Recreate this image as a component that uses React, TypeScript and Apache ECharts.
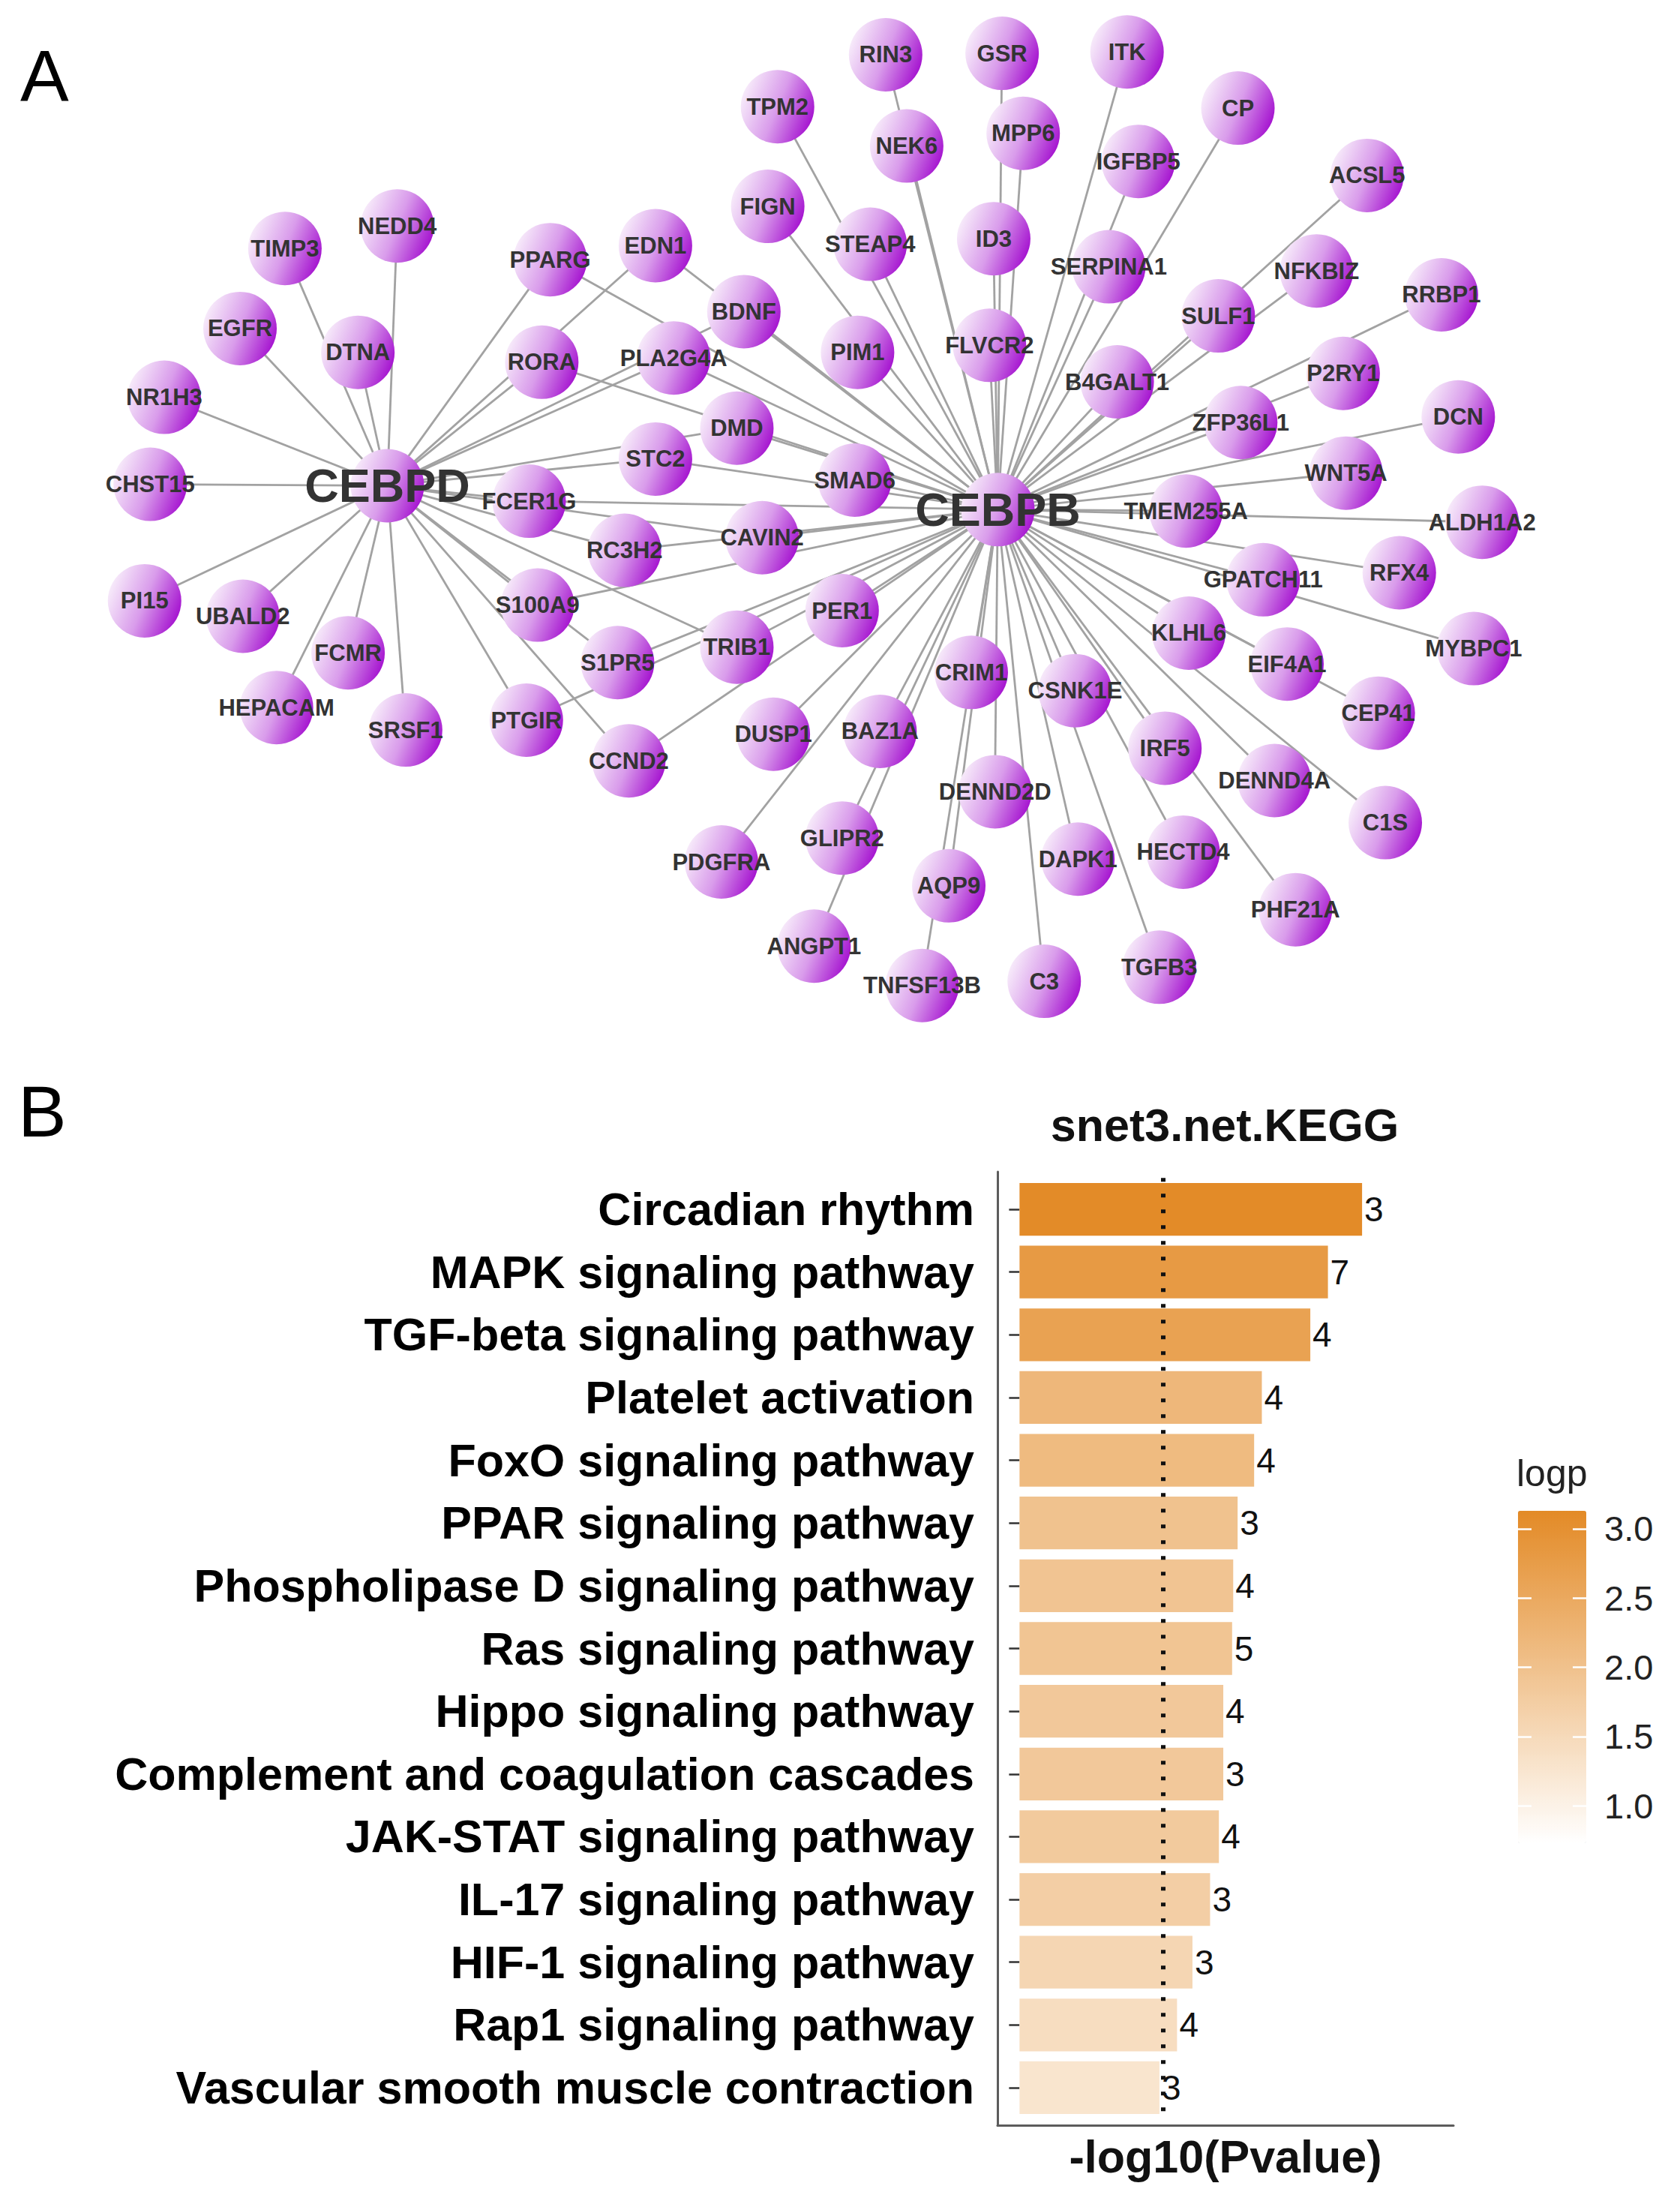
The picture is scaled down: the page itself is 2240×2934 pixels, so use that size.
import React, { useEffect, useRef } from "react";
import * as echarts from "echarts";

const PAGE_W = 2240;
const PAGE_H = 2934;
// node layout below is read in units of the 1197-px-wide reference picture
const REF_SCALE = 2240 / 1197;

// ---------------- Panel A : network ----------------
const hubGenes = ["CEBPD", "CEBPB"];
const cebpdOnlyTargets = [
  "NEDD4", "TIMP3", "EGFR", "DTNA", "NR1H3", "CHST15", "PI15", "UBALD2", "FCMR", "HEPACAM", "SRSF1",
];
const sharedTargets = [
  "PPARG", "EDN1", "RORA", "PLA2G4A", "BDNF", "DMD", "STC2", "FCER1G", "RC3H2", "CAVIN2",
  "S100A9", "S1PR5", "TRIB1", "PTGIR", "CCND2",
];
const cebpbOnlyTargets = [
  "RIN3", "GSR", "ITK", "TPM2", "NEK6", "MPP6", "CP", "IGFBP5", "ACSL5", "FIGN", "STEAP4", "ID3",
  "SERPINA1", "NFKBIZ", "RRBP1", "PIM1", "FLVCR2", "SULF1", "B4GALT1", "P2RY1", "ZFP36L1", "DCN",
  "WNT5A", "SMAD6", "TMEM255A", "ALDH1A2", "GPATCH11", "RFX4", "KLHL6", "MYBPC1", "EIF4A1", "CEP41",
  "CRIM1", "CSNK1E", "PER1", "IRF5", "DENND4A", "C1S", "DUSP1", "BAZ1A", "DENND2D", "GLIPR2",
  "DAPK1", "HECTD4", "PHF21A", "PDGFRA", "AQP9", "ANGPT1", "TNFSF13B", "C3", "TGFB3",
];
const nodeLayout: [string, number, number][] = [
  ["CEBPD", 276, 346], ["CEBPB", 711, 363],
  ["NEDD4", 283, 161], ["TIMP3", 203, 177], ["EGFR", 171, 234], ["DTNA", 255, 251],
  ["NR1H3", 117, 283], ["CHST15", 107, 345], ["PI15", 103, 428], ["UBALD2", 173, 439],
  ["FCMR", 248, 465], ["HEPACAM", 197, 504], ["SRSF1", 289, 520],
  ["PPARG", 392, 185], ["EDN1", 467, 175], ["RORA", 386, 258], ["PLA2G4A", 480, 255],
  ["BDNF", 530, 222], ["DMD", 525, 305], ["STC2", 467, 327], ["FCER1G", 377, 357],
  ["RC3H2", 445, 392], ["CAVIN2", 543, 383], ["S100A9", 383, 431], ["S1PR5", 440, 472],
  ["TRIB1", 525, 461], ["PTGIR", 375, 513], ["CCND2", 448, 542],
  ["RIN3", 631, 39], ["GSR", 714, 38], ["ITK", 803, 37], ["TPM2", 554, 76], ["NEK6", 646, 104],
  ["MPP6", 729, 95], ["CP", 882, 77], ["IGFBP5", 811, 115], ["ACSL5", 974, 125], ["FIGN", 547, 147],
  ["STEAP4", 620, 174], ["ID3", 708, 170], ["SERPINA1", 790, 190], ["NFKBIZ", 938, 193],
  ["RRBP1", 1027, 210], ["PIM1", 611, 251], ["FLVCR2", 705, 246], ["SULF1", 868, 225],
  ["B4GALT1", 796, 272], ["P2RY1", 957, 266], ["ZFP36L1", 884, 301], ["DCN", 1039, 297],
  ["WNT5A", 959, 337], ["SMAD6", 609, 342], ["TMEM255A", 845, 364], ["ALDH1A2", 1056, 372],
  ["GPATCH11", 900, 413], ["RFX4", 997, 408], ["KLHL6", 847, 451], ["MYBPC1", 1050, 462],
  ["EIF4A1", 917, 473], ["CEP41", 982, 508], ["CRIM1", 692, 479], ["CSNK1E", 766, 492],
  ["PER1", 600, 435], ["IRF5", 830, 533], ["DENND4A", 908, 556], ["C1S", 987, 586],
  ["DUSP1", 551, 523], ["BAZ1A", 627, 521], ["DENND2D", 709, 564], ["GLIPR2", 600, 597],
  ["DAPK1", 768, 612], ["HECTD4", 843, 607], ["PHF21A", 923, 648], ["PDGFRA", 514, 614],
  ["AQP9", 676, 631], ["ANGPT1", 580, 674], ["TNFSF13B", 657, 702], ["C3", 744, 699],
  ["TGFB3", 826, 689],
];

// ---------------- Panel B : KEGG enrichment ----------------
const pathways = [
  "Circadian rhythm",
  "MAPK signaling pathway",
  "TGF-beta signaling pathway",
  "Platelet activation",
  "FoxO signaling pathway",
  "PPAR signaling pathway",
  "Phospholipase D signaling pathway",
  "Ras signaling pathway",
  "Hippo signaling pathway",
  "Complement and coagulation cascades",
  "JAK-STAT signaling pathway",
  "IL-17 signaling pathway",
  "HIF-1 signaling pathway",
  "Rap1 signaling pathway",
  "Vascular smooth muscle contraction",
];
const negLog10P = [3.11, 2.8, 2.64, 2.2, 2.13, 1.98, 1.94, 1.93, 1.85, 1.85, 1.81, 1.73, 1.57, 1.43, 1.27];
const geneCounts = [3, 7, 4, 4, 4, 3, 4, 5, 4, 3, 4, 3, 3, 4, 3];
const legendTicks = [1.0, 1.5, 2.0, 2.5, 3.0];
const logpRange = [0.73, 3.13];
const xRange = [-0.2, 3.94];
const pThreshold = -Math.log10(0.05);

const SANS = "Liberation Sans";

function buildOption() {
  const xs = nodeLayout.map((n) => n[1]);
  const ys = nodeLayout.map((n) => n[2]);
  const minX = Math.min(...xs);
  const maxX = Math.max(...xs);
  const minY = Math.min(...ys);
  const maxY = Math.max(...ys);
  const box = {
    left: minX * REF_SCALE,
    top: minY * REF_SCALE,
    width: (maxX - minX) * REF_SCALE,
    height: (maxY - minY) * REF_SCALE,
  };

  const nodeGradient = new echarts.graphic.LinearGradient(0, 0.3, 1, 0.7, [
    { offset: 0, color: "#f9f0fb" },
    { offset: 0.5, color: "#d99ceb" },
    { offset: 1, color: "#a20bce" },
  ]);

  const links = [
    ...cebpdOnlyTargets.concat(sharedTargets).map((t) => ({ source: "CEBPD", target: t })),
    ...sharedTargets.concat(cebpbOnlyTargets).map((t) => ({ source: "CEBPB", target: t })),
  ];

  const nodeData = nodeLayout.map(([name, x, y]) => ({ name, x, y }));
  const labelData = nodeLayout.map(([name, x, y]) => ({
    name,
    x,
    y,
    label: hubGenes.includes(name) ? { fontSize: 63, color: "#333" } : undefined,
  }));

  const legendAxisCommon = {
    gridIndex: 2,
    type: "value",
    min: logpRange[0],
    max: logpRange[1],
    z: 10,
    axisLine: { show: false },
    splitLine: { show: false },
    axisTick: {
      show: true,
      inside: true,
      length: 18,
      customValues: legendTicks,
      lineStyle: { color: "#ffffff", width: 2.5 },
    },
  };

  return {
    animation: false,
    backgroundColor: "#ffffff",
    graphic: [
      {
        type: "text",
        x: 27,
        y: 100,
        style: { text: "A", fontSize: 97, fontFamily: SANS, fill: "#000", align: "left", verticalAlign: "middle" },
      },
      {
        type: "text",
        x: 24,
        y: 1481,
        style: { text: "B", fontSize: 97, fontFamily: SANS, fill: "#000", align: "left", verticalAlign: "middle" },
      },
      {
        type: "text",
        x: 1633,
        y: 1500,
        style: {
          text: "snet3.net.KEGG",
          fontSize: 61,
          fontWeight: "bold",
          fontFamily: SANS,
          fill: "#111",
          align: "center",
          verticalAlign: "middle",
        },
      },
      {
        type: "text",
        x: 2022,
        y: 1964,
        style: { text: "logp", fontSize: 50, fontFamily: SANS, fill: "#222", align: "left", verticalAlign: "middle" },
      },
    ],
    grid: [
      { left: 1330, top: 1570.2, width: 608, height: 1254.6 },
      { left: 1330, top: 1562, width: 608, height: 1271 },
      { left: 2024, top: 2014, width: 91, height: 443 },
    ],
    xAxis: [
      { gridIndex: 0, type: "value", min: xRange[0], max: xRange[1], show: false },
      {
        gridIndex: 1,
        type: "value",
        min: 0,
        max: 1,
        axisLine: { show: true, onZero: false, lineStyle: { color: "#5c5c5c", width: 3 } },
        axisTick: { show: false },
        axisLabel: { show: false },
        splitLine: { show: false },
        name: "-log10(Pvalue)",
        nameLocation: "middle",
        nameGap: 11,
        nameTextStyle: { fontSize: 61, fontWeight: "bold", fontFamily: SANS, color: "#111" },
      },
      { gridIndex: 2, type: "value", show: false },
    ],
    yAxis: [
      {
        gridIndex: 0,
        type: "category",
        inverse: true,
        data: pathways,
        axisLine: { show: false },
        axisTick: { show: true, alignWithLabel: true, length: 14, lineStyle: { color: "#333", width: 2.5 } },
        axisLabel: { fontSize: 61, fontWeight: "bold", fontFamily: SANS, color: "#000", margin: 31 },
        splitLine: { show: false },
      },
      {
        gridIndex: 1,
        type: "value",
        min: 0,
        max: 1,
        axisLine: { show: true, onZero: false, lineStyle: { color: "#5c5c5c", width: 3 } },
        axisTick: { show: false },
        axisLabel: { show: false },
        splitLine: { show: false },
      },
      { ...legendAxisCommon, position: "left", axisLabel: { show: false } },
      {
        ...legendAxisCommon,
        position: "right",
        axisLabel: {
          show: true,
          customValues: legendTicks,
          formatter: (v: number) => v.toFixed(1),
          margin: 24,
          fontSize: 47,
          fontFamily: SANS,
          color: "#222",
        },
      },
    ],
    visualMap: {
      type: "continuous",
      min: logpRange[0],
      max: logpRange[1],
      dimension: 0,
      seriesIndex: 2,
      left: 2024,
      top: 2014,
      itemWidth: 91,
      itemHeight: 443,
      padding: 0,
      calculable: false,
      orient: "vertical",
      inRange: { color: ["#ffffff", "#e38a26"] },
    },
    series: [
      {
        type: "graph",
        layout: "none",
        ...box,
        roam: false,
        silent: true,
        symbol: "circle",
        symbolSize: 98,
        itemStyle: { color: nodeGradient },
        lineStyle: { color: "#a2a2a2", width: 2.8, opacity: 1, curveness: 0 },
        label: { show: false },
        emphasis: { disabled: true },
        data: nodeData,
        links,
      },
      {
        type: "graph",
        layout: "none",
        ...box,
        roam: false,
        silent: true,
        symbol: "circle",
        symbolSize: 1,
        itemStyle: { color: "rgba(0,0,0,0)" },
        label: {
          show: true,
          position: "inside",
          fontFamily: SANS,
          fontWeight: "bold",
          fontSize: 31,
          color: "#333",
        },
        emphasis: { disabled: true },
        data: labelData,
        links: [],
      },
      {
        type: "bar",
        xAxisIndex: 0,
        yAxisIndex: 0,
        data: negLog10P.map((v, i) => [v, pathways[i]]),
        barWidth: "84%",
        silent: true,
        label: {
          show: true,
          position: "right",
          distance: 3,
          formatter: (p: any) => String(geneCounts[p.dataIndex]),
          fontFamily: SANS,
          fontSize: 46,
          color: "#111",
        },
        markLine: {
          silent: true,
          symbol: "none",
          label: { show: false },
          emphasis: { disabled: true },
          lineStyle: { color: "#111", width: 6, type: [5, 16] },
          data: [{ xAxis: pThreshold }],
        },
      },
    ],
  };
}

export default function App() {
  const ref = useRef<HTMLDivElement>(null);
  useEffect(() => {
    if (!ref.current) return;
    const chart = echarts.init(ref.current, null, { renderer: "svg" });
    chart.setOption(buildOption() as any);
    return () => chart.dispose();
  }, []);
  return (
    <div
      ref={ref}
      style={{ position: "absolute", left: 0, top: 0, width: PAGE_W, height: PAGE_H, background: "#fff" }}
    />
  );
}
